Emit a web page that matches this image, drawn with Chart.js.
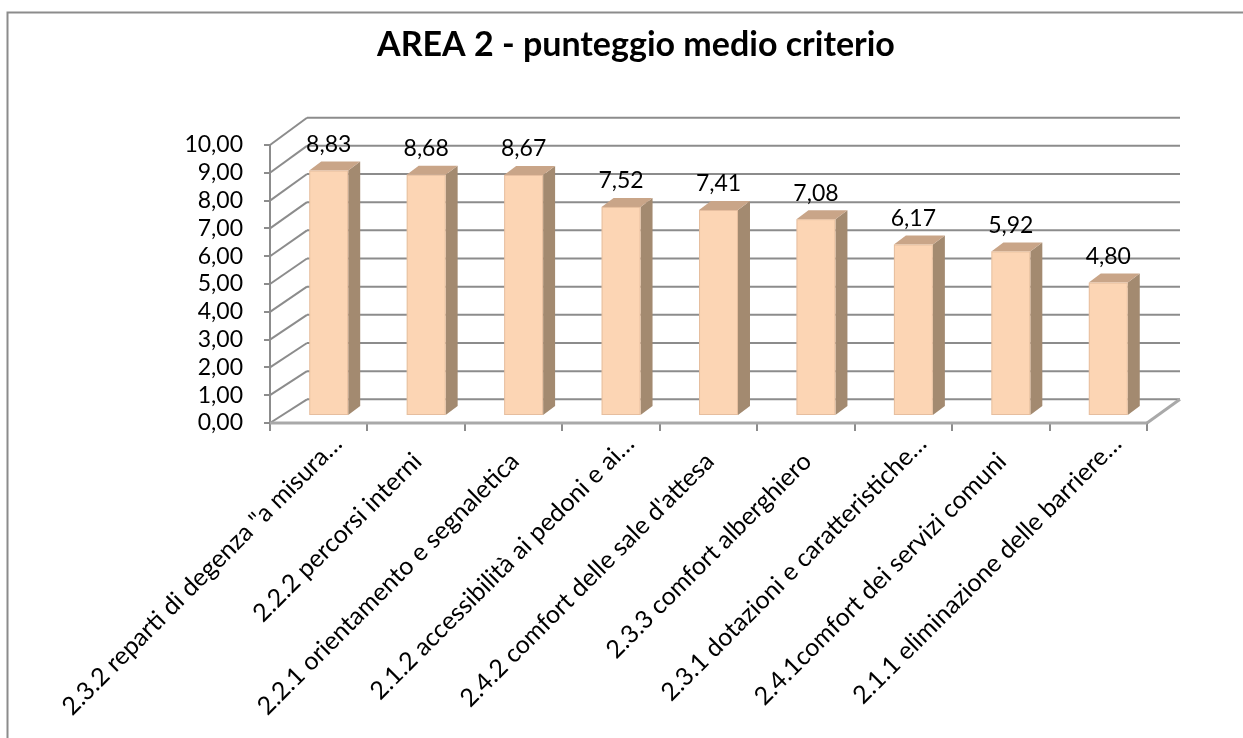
<!DOCTYPE html>
<html>
<head>
<meta charset="utf-8">
<title>AREA 2 - punteggio medio criterio</title>
<script src="https://cdn.jsdelivr.net/npm/chart.js@4.4.1/dist/chart.umd.min.js"></script>
<style>
  html, body { margin: 0; padding: 0; background: #fff; }
  #wrap { width: 1243px; height: 738px; position: relative; }
</style>
</head>
<body>
<div id="wrap"><canvas id="chart"></canvas></div>
<script>
const categories = [
  '2.3.2 reparti di degenza "a misura…',
  '2.2.2 percorsi interni',
  '2.2.1 orientamento e segnaletica',
  '2.1.2 accessibilità ai pedoni e ai…',
  "2.4.2 comfort delle sale d'attesa",
  '2.3.3 comfort alberghiero',
  '2.3.1 dotazioni e caratteristiche…',
  '2.4.1comfort dei servizi comuni',
  '2.1.1 eliminazione delle barriere…'
];
const scores = [8.83, 8.68, 8.67, 7.52, 7.41, 7.08, 6.17, 5.92, 4.80];
const yMin = 0;
const yMax = 10;
const yStep = 1;

const FONT = 'Lato, "Open Sans", sans-serif';
const GRID = '#8c8c8c';
const FLOOR = '#a9a9a9';
const FACE = '#fcd5b4';
const TOP = '#c9a588';
const SIDE = '#a38a70';

// back wall sits up and to the right of the front axes
const WALL_DX_L = 37, WALL_DX_R = 33;
// bar front faces are pushed a little into the floor, then extruded
const BAR_DX = 10, BAR_DY = -7;
const DEPTH_X = 12, DEPTH_Y = -9;

const fmt = v => v.toFixed(2).replace('.', ',');

function backY(ys, v) {
  return ys.getPixelForValue(v) - 23.7 - 0.36 * v;
}

function line(ctx, x1, y1, x2, y2) {
  ctx.beginPath();
  ctx.moveTo(x1, y1);
  ctx.lineTo(x2, y2);
  ctx.stroke();
}

const box3d = {
  id: 'box3d',
  beforeDraw(chart) {
    const ctx = chart.ctx;
    ctx.save();
    ctx.strokeStyle = '#8c8c8c';
    ctx.lineWidth = 2;
    ctx.strokeRect(7.5, 12.5, 1400, 900);
    ctx.restore();
  },
  beforeDatasetsDraw(chart) {
    const ctx = chart.ctx;
    const { left, right, bottom } = chart.chartArea;
    const ys = chart.scales.y;
    ctx.save();
    ctx.strokeStyle = GRID;
    ctx.lineWidth = 2;
    ys.ticks.forEach(t => {
      const yf = ys.getPixelForValue(t.value);
      const yb = backY(ys, t.value);
      line(ctx, left, yf, left + WALL_DX_L, yb);
      line(ctx, left + WALL_DX_L, yb, right + WALL_DX_R, yb);
    });
    // floor edges
    ctx.strokeStyle = FLOOR;
    ctx.lineWidth = 3;
    line(ctx, left, bottom, right, bottom);
    line(ctx, right, bottom, right + WALL_DX_R, backY(ys, 0));
    ctx.restore();
  },
  afterDatasetsDraw(chart) {
    const ctx = chart.ctx;
    const meta = chart.getDatasetMeta(0);
    ctx.save();
    meta.data.forEach((bar, i) => {
      const w = bar.width;
      const x0 = bar.x - w / 2 + BAR_DX, x1 = x0 + w;
      const yt = bar.y + BAR_DY, yb = bar.base + BAR_DY;
      // side
      ctx.fillStyle = SIDE;
      ctx.beginPath();
      ctx.moveTo(x1, yt);
      ctx.lineTo(x1 + DEPTH_X, yt + DEPTH_Y);
      ctx.lineTo(x1 + DEPTH_X, yb + DEPTH_Y);
      ctx.lineTo(x1, yb);
      ctx.closePath();
      ctx.fill();
      // top
      ctx.fillStyle = TOP;
      ctx.beginPath();
      ctx.moveTo(x0, yt);
      ctx.lineTo(x0 + DEPTH_X, yt + DEPTH_Y);
      ctx.lineTo(x1 + DEPTH_X, yt + DEPTH_Y);
      ctx.lineTo(x1, yt);
      ctx.closePath();
      ctx.fill();
      // front
      ctx.fillStyle = FACE;
      ctx.fillRect(x0, yt, w, yb - yt);
      ctx.strokeStyle = 'rgba(190,150,120,0.35)';
      ctx.lineWidth = 1;
      ctx.strokeRect(x0 + 0.5, yt + 0.5, w - 1, yb - yt - 1);
      // value label
      ctx.fillStyle = '#000';
      ctx.font = '23px ' + FONT;
      ctx.textAlign = 'center';
      ctx.textBaseline = 'middle';
      ctx.fillText(fmt(scores[i]), x0 + w / 2, yt - 26);
    });
    ctx.restore();
  },
  afterDraw(chart) {
    const ctx = chart.ctx;
    const xs = chart.scales.x;
    const bottom = chart.chartArea.bottom;
    ctx.save();
    ctx.fillStyle = '#000';
    ctx.font = '25px ' + FONT;
    ctx.textAlign = 'right';
    ctx.textBaseline = 'alphabetic';
    categories.forEach((c, i) => {
      const cx = xs.getPixelForValue(i);
      // clipped names keep the room of the hidden tail, so they run on further
      const extra = c.endsWith('…') ? 25 : 0;
      ctx.save();
      ctx.translate(cx + 7, bottom + 40);
      ctx.rotate(-Math.PI / 4);
      ctx.fillText(c, extra, 0);
      ctx.restore();
    });
    ctx.restore();
  }
};

new Chart(document.getElementById('chart'), {
  type: 'bar',
  data: {
    labels: categories,
    datasets: [{
      data: scores,
      backgroundColor: 'rgba(0,0,0,0)',
      borderWidth: 0,
      categoryPercentage: 1,
      barPercentage: 0.4
    }]
  },
  options: {
    responsive: true,
    maintainAspectRatio: false,
    animation: false,
    layout: { padding: { left: 125, right: 96, top: 0, bottom: 0 } },
    plugins: {
      legend: { display: false },
      tooltip: { enabled: false },
      title: {
        display: true,
        text: 'AREA 2 - punteggio medio criterio',
        color: '#000',
        font: { family: FONT, size: 34, weight: 'bold' },
        padding: { top: 24.6, bottom: 79.6 }
      }
    },
    scales: {
      x: {
        grid: { offset: true, drawOnChartArea: false, tickLength: 8, color: GRID, lineWidth: 2 },
        border: { display: false },
        ticks: { display: false },
        afterFit(scale) { scale.height = 315; }
      },
      y: {
        min: yMin,
        max: yMax,
        grid: { drawOnChartArea: false, tickLength: 6, color: GRID, lineWidth: 2 },
        border: { display: true, color: GRID, width: 2 },
        ticks: {
          stepSize: yStep,
          autoSkip: false,
          color: '#000',
          padding: 21,
          font: { family: FONT, size: 23 },
          callback: v => fmt(v)
        },
        afterFit(scale) { scale.width = 145; }
      }
    }
  },
  plugins: [box3d]
});
</script>
</body>
</html>
